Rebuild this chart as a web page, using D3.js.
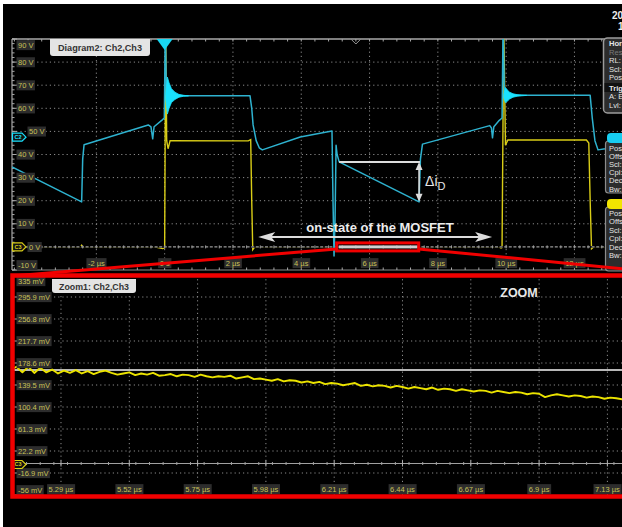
<!DOCTYPE html>
<html>
<head>
<meta charset="utf-8">
<title>Ch2 / Ch3 switching waveforms</title>
<script src="https://cdn.jsdelivr.net/npm/d3@7/dist/d3.min.js"></script>
<style>
  html, body { margin: 0; padding: 0; background: #fff; }
  svg { display: block; }
  text { font-family: "Liberation Sans", Arial, sans-serif; }
</style>
</head>
<body>
<svg id="scope" width="622" height="527"></svg>
<script>
// ---------------- data ----------------
// Ch2 (cyan), time in µs, level in V
const ch2Time = [-4.47, -2.43, -2.40, -2.36, -0.48, -0.40, -0.35, -0.31, -0.07, -0.01, 0.02, 0.05, 0.60,
  2.50, 2.55, 2.59, 2.68, 2.77, 2.86, 3.97, 4.90, 4.93, 4.96, 4.99, 5.02, 5.05, 5.11, 7.45, 7.49, 7.55,
  9.52, 9.57, 9.60, 9.64, 9.80, 9.88, 9.91, 9.95, 10.50, 12.46, 12.52, 12.60, 12.69, 12.90, 13.40];
const ch2Volt = [34.6, 19.5, 38.0, 44.2, 52.8, 52.0, 46.8, 52.0, 55.0, 55.8, 96.0, 66.0, 65.4,
  65.4, 60.0, 52.8, 46.0, 42.9, 42.0, 47.6, 50.2, 20.0, -3.9, 12.0, 44.0, 40.0, 36.8, 19.5, 38.0, 44.5,
  52.5, 51.5, 47.2, 52.0, 54.8, 55.8, 96.0, 65.8, 65.6, 65.6, 56.0, 46.0, 42.0, 42.5, 44.0];

// Ch2 ringing bursts after each switching edge (envelope, V)
const ring1Time  = [0.03, 0.08, 0.13, 0.20, 0.30, 0.42, 0.55, 0.70];
const ring1Upper = [66.0, 73.5, 71.0, 68.5, 67.0, 66.0, 65.6, 65.4];
const ring1Lower = [64.0, 57.5, 60.0, 62.5, 63.8, 64.8, 65.2, 65.4];
const ring2Time  = [9.93, 9.98, 10.03, 10.10, 10.20, 10.32, 10.45, 10.60];
const ring2Upper = [66.0, 69.0, 68.0, 67.0, 66.3, 65.9, 65.7, 65.6];
const ring2Lower = [64.5, 62.5, 63.0, 64.0, 64.8, 65.2, 65.4, 65.6];

// Ch3 (yellow), time in µs, level in V
const ch3Time = [-4.47, -2.46, -2.43, -2.40, -0.30, -0.06, 0.00, 0.03, 0.06, 0.10, 0.16, 2.45, 2.52, 2.55,
  2.58, 2.64, 9.78, 9.85, 9.88, 9.93, 9.98, 10.05, 12.35, 12.42, 12.46, 12.50, 12.56, 15.00];
const ch3Volt = [0, 0, 0.7, 0, 0, -0.7, -0.4, 96, 46, 42.5, 46, 45.9, 46.4, 20,
  -1.2, 0, 0, -0.5, -0.3, 96, 44, 46.3, 46.3, 45, 20, -0.8, 0, 0];

// Zoom1: Ch3 during the on-state, sampled every 20 ns from 5.12 µs (mV)
const zoomStart = 5.12, zoomStep = 0.02;
const zoomMilliVolt = [166, 172, 162, 172, 161, 170, 162, 167, 160, 165, 161, 166, 160, 164,
  159, 163, 165, 161, 158, 160, 162, 157, 160, 158,
  161, 156, 157, 159, 155, 158, 157, 154, 158, 155,
  153, 155, 154, 156, 151, 153, 155, 150, 151, 149,
  147, 150, 146, 148, 147, 144, 146, 143, 145, 141,
  143, 142, 139, 141, 143, 138, 140, 137, 139, 138,
  135, 138, 136, 133, 136, 134, 132, 135, 131, 133,
  132, 129, 132, 130, 128, 130, 129, 126, 129, 127,
  125, 127, 126, 123, 125, 124, 118, 121, 123, 121,
  119, 121, 120, 117, 119, 118, 115, 117, 116, 114, 115];
const refLevelMilliVolt = 166;

// axes
const mainTimeDomain = [-4.47, 15.53];
const mainVoltDomain = [-10, 90];
const mainVoltTicks = [90, 80, 70, 60, 50, 40, 30, 20, 10, 0, -10];
const mainTimeTicks = [-2, 0, 2, 4, 6, 8, 10, 12, 14];
const zoomTimeDomain = [5.125, 7.425];
const zoomVoltDomain = [-56, 335];
const zoomVoltTicks = [335, 295.9, 256.8, 217.7, 178.6, 139.5, 100.4, 61.3, 22.2, -16.9, -56];
const zoomTimeTicks = [5.29, 5.52, 5.75, 5.98, 6.21, 6.44, 6.67, 6.9, 7.13, 7.36];

// channel offset markers (V on the main diagram)
const ch2MarkerLevel = 47.5;
const ch3MarkerLevel = 0;

// annotations
const onStateSpan = [2.74, 9.59];      // µs, arrow extent
const onStateArrowLevel = 4.3;         // V
const deltaTime = [5.11, 7.45];        // µs
const deltaLevels = [36.8, 19.5];      // V

// ---------------- layout ----------------
const W = 622, H = 527;
const main = { left: 12, right: 695, top: 39, bottom: 270 };
const zoom = { left: 12, right: 695, top: 275, bottom: 495 };

const mainX = d3.scaleLinear().domain(mainTimeDomain).range([main.left, main.right]);
const mainY = d3.scaleLinear().domain(mainVoltDomain).range([main.bottom, main.top]);
const zoomX = d3.scaleLinear().domain(zoomTimeDomain).range([zoom.left, zoom.right]);
const zoomY = d3.scaleLinear().domain(zoomVoltDomain).range([zoom.bottom, zoom.top]);

const CYAN = '#2eb2cf', CYAN_BRIGHT = '#19e2ff', YELLOW = '#d9cd17', ZOOM_YELLOW = '#ebe300';
const GRID = '#8a8a8a', FRAME = '#a8a8a8', LABEL = '#c9c158', LABEL_BG = '#2d2d2d';
const RED = '#f10000', WHITE = '#dcdcdc';

const svg = d3.select('#scope');
svg.append('rect').attr('width', W).attr('height', H).attr('fill', '#fff');
svg.append('rect').attr('x', 3).attr('y', 4).attr('width', W - 3).attr('height', H - 4).attr('fill', '#000');

const defs = svg.append('defs');
defs.append('clipPath').attr('id', 'clipMain').append('rect')
  .attr('x', main.left).attr('y', main.top).attr('width', main.right - main.left).attr('height', main.bottom - main.top);
defs.append('clipPath').attr('id', 'clipZoom').append('rect')
  .attr('x', zoom.left).attr('y', zoom.top).attr('width', zoom.right - zoom.left).attr('height', zoom.bottom - zoom.top);

function line(g, x1, y1, x2, y2, stroke, width, dash) {
  return g.append('line').attr('x1', x1).attr('y1', y1).attr('x2', x2).attr('y2', y2)
    .attr('stroke', stroke).attr('stroke-width', width).attr('stroke-dasharray', dash || null);
}

// small boxed axis label
function boxLabel(g, x, y, txt, anchor) {
  const lg = g.append('g');
  const r = lg.append('rect').attr('fill', LABEL_BG);
  const t = lg.append('text').attr('x', x).attr('y', y).attr('dy', '0.35em')
    .attr('text-anchor', anchor).attr('font-size', 7.5).attr('fill', LABEL).text(txt);
  const bb = t.node().getBBox();
  r.attr('x', bb.x - 1.5).attr('y', bb.y - 0.5).attr('width', bb.width + 3).attr('height', bb.height + 1);
}

// channel offset tag at the left border
function channelTag(g, y, name, color) {
  const tg = g.append('g');
  tg.append('path').attr('d', `M12.5,${y - 4} L22,${y - 4} L26,${y} L22,${y + 4} L12.5,${y + 4} Z`)
    .attr('fill', '#111').attr('stroke', color).attr('stroke-width', 1.2);
  tg.append('text').attr('x', 18).attr('y', y).attr('dy', '0.35em').attr('text-anchor', 'middle')
    .attr('font-size', 5.5).attr('font-weight', 'bold').attr('fill', color).text(name);
}

function formatTime(t) { return t === 0 ? '0 s' : `${t} µs`; }

// ---------------- main diagram ----------------
const gMain = svg.append('g');
const mainDivX = 2 / 5, mainDivY = 10 / 5;

// grid
mainTimeTicks.forEach(t => line(gMain, mainX(t), main.top, mainX(t), main.bottom, GRID, 1, '1.2,3'));
mainVoltTicks.filter(v => v > -10 && v < 90 && v !== 0)
  .forEach(v => line(gMain, main.left, mainY(v), W, mainY(v), GRID, 1, '1.2,3'));

// frame
line(gMain, main.left, main.top, W, main.top, FRAME, 1.5);
line(gMain, main.left, main.bottom, W, main.bottom, '#8a8a8a', 1.2);
line(gMain, main.left, main.top, main.left, main.bottom, FRAME, 1.2);
d3.range(mainTimeDomain[0] + 0.07, mainTimeDomain[1], mainDivX).forEach(t => {
  line(gMain, mainX(t), main.top, mainX(t), main.top + 2.5, FRAME, 1);
  line(gMain, mainX(t), main.bottom, mainX(t), main.bottom - 2.5, FRAME, 1);
});
d3.range(-10, 90.1, mainDivY).forEach(v => line(gMain, main.left, mainY(v), main.left + 2.5, mainY(v), FRAME, 1));
mainVoltTicks.forEach(v => line(gMain, main.left, mainY(v), main.left + 5, mainY(v), FRAME, 1));

// traces
const gTr = gMain.append('g').attr('clip-path', 'url(#clipMain)');
const mainLine = d3.line().x(d => mainX(d[0])).y(d => mainY(d[1]));
gTr.append('path').datum(d3.zip(ch3Time, ch3Volt)).attr('d', mainLine)
  .attr('fill', 'none').attr('stroke', YELLOW).attr('stroke-width', 1.4);

// ground reference of Ch3 drawn over the trace
line(gTr, main.left, mainY(0), W, mainY(0), '#000', 1.6);
line(gTr, main.left, mainY(0), W, mainY(0), '#9a9a9a', 1.2, '3,1.6');
d3.range(mainTimeDomain[0] + 0.07, mainTimeDomain[1], mainDivX)
  .forEach(t => line(gTr, mainX(t), mainY(0) - 1.5, mainX(t), mainY(0) + 1.5, '#9a9a9a', 1));

gTr.append('path').datum(d3.zip(ch2Time, ch2Volt)).attr('d', mainLine)
  .attr('fill', 'none').attr('stroke', CYAN).attr('stroke-width', 1.5).attr('stroke-linejoin', 'round');

const ringArea = d3.area().x(d => mainX(d[0])).y0(d => mainY(d[2])).y1(d => mainY(d[1]));
[[ring1Time, ring1Upper, ring1Lower], [ring2Time, ring2Upper, ring2Lower]].forEach(([t, u, l]) => {
  gTr.append('path').datum(d3.zip(t, u, l)).attr('d', ringArea)
    .attr('fill', CYAN_BRIGHT).attr('stroke', CYAN_BRIGHT).attr('stroke-width', 0.8);
});

// axis labels (levels carrying a channel tag get their label pushed right of it)
const taggedLevels = [50, ch3MarkerLevel];
mainVoltTicks.forEach((v, i) => {
  let y = mainY(v);
  if (i === 0) y += 6;
  if (i === mainVoltTicks.length - 1) y -= 5;
  boxLabel(gMain, taggedLevels.includes(v) ? 29 : 18, y, `${v} V`, 'start');
});
mainTimeTicks.filter(t => t <= 12).forEach(t => boxLabel(gMain, mainX(t), main.bottom - 7, formatTime(t), 'middle'));

channelTag(gMain, mainY(ch2MarkerLevel), 'C2', CYAN_BRIGHT);
channelTag(gMain, mainY(ch3MarkerLevel), 'C3', YELLOW);

// trigger position marker and zoom position marker
gMain.append('path')
  .attr('d', `M${mainX(0) - 8},${main.top} L${mainX(0) + 8},${main.top} L${mainX(0)},${main.top + 11} Z`)
  .attr('fill', '#19d8f2');
gMain.append('path')
  .attr('d', `M${mainX(5.6) - 4.5},${main.top + 0.5} L${mainX(5.6)},${main.top + 5} L${mainX(5.6) + 4.5},${main.top + 0.5}`)
  .attr('fill', 'none').attr('stroke', '#9a9a9a').attr('stroke-width', 1);

// diagram tab
const tab1 = gMain.append('g');
tab1.append('path').attr('d', 'M50,39 L150,39 L150,53 Q150,56 147,56 L53,56 Q50,56 50,53 Z').attr('fill', '#e4e4e4');
tab1.append('text').attr('x', 100).attr('y', 51).attr('text-anchor', 'middle').attr('font-size', 9)
  .attr('font-weight', 'bold').attr('font-family', '"DejaVu Sans", sans-serif').attr('fill', '#333')
  .attr('textLength', 84).attr('lengthAdjust', 'spacingAndGlyphs').text('Diagram2: Ch2,Ch3');

// ---------------- zoom diagram ----------------
const gZoom = svg.append('g');
const zoomDivX = 0.23 / 5;

zoomTimeTicks.forEach(t => line(gZoom, zoomX(t), zoom.top, zoomX(t), zoom.bottom, GRID, 1, '1.2,3'));
zoomVoltTicks.slice(1, -1).forEach(v => line(gZoom, zoom.left, zoomY(v), W, zoomY(v), GRID, 1, '1.2,3'));

// Ch3 ground reference
line(gZoom, zoom.left, zoomY(0), W, zoomY(0), '#a0a0a0', 1.2);
d3.range(zoomTimeDomain[0] + 0.003, zoomTimeDomain[1], zoomDivX).forEach(t =>
  line(gZoom, zoomX(t), zoomY(0) - 1.5, zoomX(t), zoomY(0) + 1.5, '#a0a0a0', 1));
zoomTimeTicks.forEach(t => line(gZoom, zoomX(t), zoomY(0) - 3, zoomX(t), zoomY(0) + 3, '#b0b0b0', 1));

// reference level
line(gZoom, zoom.left, zoomY(refLevelMilliVolt), W, zoomY(refLevelMilliVolt), '#b8b8b8', 2);

const zoomData = zoomMilliVolt.map((v, i) => [zoomStart + i * zoomStep, v]);
gZoom.append('g').attr('clip-path', 'url(#clipZoom)').append('path').datum(zoomData)
  .attr('d', d3.line().x(d => zoomX(d[0])).y(d => zoomY(d[1])))
  .attr('fill', 'none').attr('stroke', ZOOM_YELLOW).attr('stroke-width', 1.9).attr('stroke-linejoin', 'round');

zoomVoltTicks.forEach((v, i) => {
  let y = zoomY(v);
  if (i === 0) y += 6;
  if (i === zoomVoltTicks.length - 1) y -= 5;
  line(gZoom, zoom.left, zoomY(v), zoom.left + 5, zoomY(v), FRAME, 1);
  boxLabel(gZoom, 18, y, `${v} mV`, 'start');
});
zoomTimeTicks.filter(t => t < 7.2).forEach(t => boxLabel(gZoom, zoomX(t), zoom.bottom - 6, `${t} µs`, 'middle'));
channelTag(gZoom, zoomY(0) + 1, 'C3', YELLOW);

const tab2 = gZoom.append('g');
tab2.append('path').attr('d', 'M52,279 L136,279 L136,290 Q136,293 133,293 L55,293 Q52,293 52,290 Z').attr('fill', '#e4e4e4');
tab2.append('text').attr('x', 94).attr('y', 289.5).attr('text-anchor', 'middle').attr('font-size', 8.5)
  .attr('font-weight', 'bold').attr('font-family', '"DejaVu Sans", sans-serif').attr('fill', '#333')
  .attr('textLength', 70).attr('lengthAdjust', 'spacingAndGlyphs').text('Zoom1: Ch2,Ch3');

gZoom.append('text').attr('x', 519).attr('y', 297).attr('text-anchor', 'middle')
  .attr('font-size', 12.5).attr('font-weight', 'bold').attr('fill', '#e8e8e8').text('ZOOM');

// ---------------- annotations ----------------
const gAnn = svg.append('g');

// on-state double arrow
const ay = mainY(onStateArrowLevel), ax1 = mainX(onStateSpan[0]), ax2 = mainX(onStateSpan[1]);
line(gAnn, ax1 + 8, ay, ax2 - 8, ay, WHITE, 2);
gAnn.append('path').attr('d', `M${ax1},${ay} L${ax1 + 17},${ay - 5} L${ax1 + 13},${ay} L${ax1 + 17},${ay + 5} Z`).attr('fill', WHITE);
gAnn.append('path').attr('d', `M${ax2},${ay} L${ax2 - 17},${ay - 5} L${ax2 - 13},${ay} L${ax2 - 17},${ay + 5} Z`).attr('fill', WHITE);
gAnn.append('text').attr('x', 380).attr('y', 232).attr('text-anchor', 'middle').attr('font-size', 13)
  .attr('font-weight', 'bold').attr('fill', '#ececec').text('on-state of the MOSFET');

// current ripple marker
const dxA = mainX(deltaTime[0]), dxB = mainX(deltaTime[1]);
const dyTop = mainY(deltaLevels[0]), dyBot = mainY(deltaLevels[1]);
line(gAnn, dxA, dyTop, dxB + 1, dyTop, WHITE, 2);
line(gAnn, dxB, dyTop + 5, dxB, dyBot - 5, WHITE, 1.6);
gAnn.append('path').attr('d', `M${dxB},${dyTop} L${dxB - 3.5},${dyTop + 8} L${dxB + 3.5},${dyTop + 8} Z`).attr('fill', WHITE);
gAnn.append('path').attr('d', `M${dxB},${dyBot} L${dxB - 3.5},${dyBot - 8} L${dxB + 3.5},${dyBot - 8} Z`).attr('fill', WHITE);
const dl = gAnn.append('text').attr('x', dxB + 6).attr('y', 186).attr('font-size', 14).attr('fill', '#e6e6e6');
dl.append('tspan').text('Δi');
dl.append('tspan').attr('font-size', 11).attr('dy', 4).text('D');

// zoom window on the main diagram
const zx1 = mainX(zoomTimeDomain[0]) - 3, zx2 = mainX(zoomTimeDomain[1]) + 0.5;
gAnn.append('rect').attr('x', zx1 + 2).attr('y', mainY(0) - 1.5).attr('width', zx2 - zx1 - 3).attr('height', 3).attr('fill', '#cfcfcf');

// ---------------- side panels ----------------
const gPan = svg.append('g');
function panelRows(rows, y0, dy) {
  rows.forEach((r, i) => gPan.append('text').attr('x', 609).attr('y', y0 + i * dy)
    .attr('font-size', 7.6).attr('fill', r.dim ? '#7a7a7a' : '#e4e4e4').attr('font-weight', r.bold ? 'bold' : null).text(r.t));
}
gPan.append('rect').attr('x', 603.5).attr('y', 38).attr('width', 40).attr('height', 75).attr('rx', 4)
  .attr('fill', '#2c2c2c').attr('stroke', '#9c9c9c').attr('stroke-width', 1.5);
gPan.append('rect').attr('x', 604.5).attr('y', 83).attr('width', 30).attr('height', 9).attr('fill', '#111');
panelRows([{ t: 'Horizontal', bold: true }, { t: 'Res: 400 ps', dim: true }, { t: 'RL: 50 kS' }, { t: 'Scl: 2 µs' }, { t: 'Pos: 0 s' }], 46, 8.6);
panelRows([{ t: 'Trigger', bold: true }, { t: 'A: Edge' }, { t: 'Lvl: 1.6 V' }], 90.5, 8.8);

gPan.append('rect').attr('x', 605.5).attr('y', 141).attr('width', 30).attr('height', 52).attr('rx', 3)
  .attr('fill', '#2c2c2c').attr('stroke', '#8c8c8c').attr('stroke-width', 1.2);
gPan.append('rect').attr('x', 607).attr('y', 133).attr('width', 30).attr('height', 10).attr('rx', 4).attr('fill', '#17cdf0');
panelRows([{ t: 'Pos: 0 div' }, { t: 'Offset: 0 V' }, { t: 'Scl: 10 V/div' }, { t: 'Cpl: DC 1 MΩ' }, { t: 'Dec: Sample' }, { t: 'Bw: 500 MHz' }], 150.5, 8.2);

gPan.append('rect').attr('x', 605.5).attr('y', 207).attr('width', 30).attr('height', 64).attr('rx', 3)
  .attr('fill', '#2c2c2c').attr('stroke', '#8c8c8c').attr('stroke-width', 1.2);
gPan.append('rect').attr('x', 607).attr('y', 199).attr('width', 30).attr('height', 10).attr('rx', 4).attr('fill', '#f2e400');
panelRows([{ t: 'Pos: -4 div' }, { t: 'Offset: 0 V' }, { t: 'Scl: 10 V/div' }, { t: 'Cpl: DC 1 MΩ' }, { t: 'Dec: Sample' }, { t: 'Bw: 500 MHz' }], 216, 8.4);

// date / time
svg.append('text').attr('x', 612).attr('y', 19).attr('font-size', 10).attr('font-weight', 'bold').attr('fill', '#eee').text('2013-06-12');
svg.append('text').attr('x', 618).attr('y', 30).attr('font-size', 10).attr('font-weight', 'bold').attr('fill', '#eee').text('14:27:05');

// ---------------- red highlight of the zoom window ----------------
const gRed = svg.append('g');
gRed.append('rect').attr('x', zx1).attr('y', mainY(0) - 4).attr('width', zx2 - zx1).attr('height', 8)
  .attr('fill', 'none').attr('stroke', RED).attr('stroke-width', 3);
line(gRed, zx1, mainY(0) + 2, 12, 276, RED, 3);
line(gRed, zx2, mainY(0) + 2, 697, 276, RED, 3);
gRed.append('rect').attr('x', 12.5).attr('y', 275.5).attr('width', 700).attr('height', 221)
  .attr('fill', 'none').attr('stroke', RED).attr('stroke-width', 4.5);
</script>
</body>
</html>
